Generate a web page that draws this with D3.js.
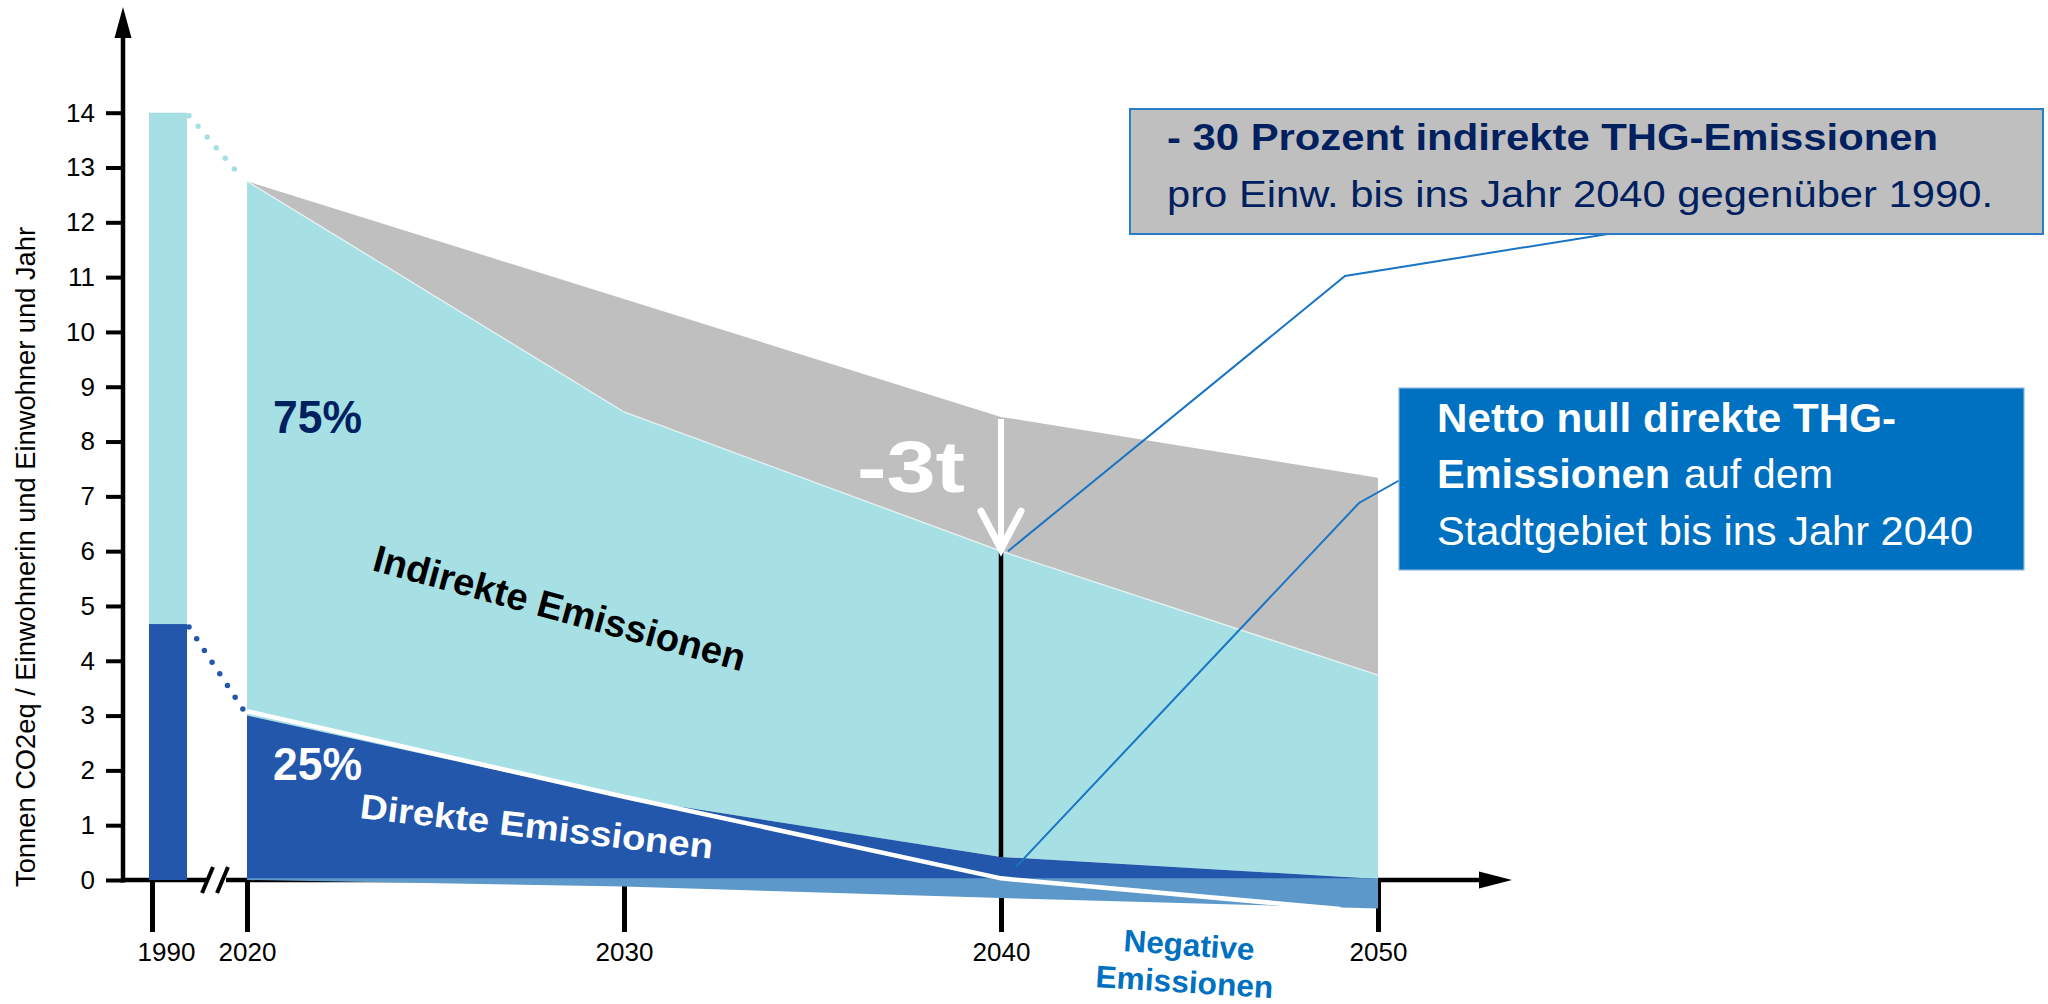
<!DOCTYPE html>
<html><head><meta charset="utf-8">
<script src="https://cdn.jsdelivr.net/npm/d3@7"></script>
<style>
html,body{margin:0;padding:0;background:#fff;}
svg{display:block;font-family:"Liberation Sans",Arial,Helvetica,sans-serif;}
</style></head><body>
<svg id="chart" width="2048" height="1004"></svg>
<script>
// ---------- data ----------
const years        = [2020, 2030, 2040, 2050];
const upperLimit   = [12.75, 10.6, 8.45, 7.34];   // grey band top
const indirectTop  = [12.75, 8.54, 6.0, 3.74];    // top of indirect (cyan) area
const directTop    = [3.0, 1.5, 0.42, 0.02];      // top of direct (dark blue) area
const negativeEm   = [0, -0.12, -0.33, -0.52];    // negative emissions (below zero)
const netYears     = [2020, 2030, 2040, 2049];
const netDirect    = [3.08, 1.52, 0.03, -0.53];   // white net line
const baseYear     = 1990;
const baseTotal    = 14;
const baseDirect   = 4.67;
const targetYear   = 2040;
const yTickValues  = [0,1,2,3,4,5,6,7,8,9,10,11,12,13,14];
const xTickYears   = [1990, 2020, 2030, 2040, 2050];

const C = {
  cyan:"#a7e0e4", grey:"#bfbfbf", dark:"#2257ab", neg:"#5c98c9",
  navy:"#002060", boxBlue:"#0070c0", lead:"#1a74c4"
};

const svg = d3.select("#chart");
const x = d3.scaleLinear().domain([1990, 2020, 2050]).range([152, 247, 1378]);
const y = d3.scaleLinear().domain([0, 14]).range([880, 112.7]);
const AX = 123;

// ---------- axes ----------
const yAxis = d3.axisLeft(y).tickValues(yTickValues).tickSize(17).tickSizeOuter(0).tickPadding(11);
const gy = svg.append("g").attr("transform", `translate(${AX},0)`).call(yAxis);
gy.select(".domain").remove();
gy.selectAll(".tick line").attr("stroke", "#000").attr("stroke-width", 4);
gy.selectAll(".tick text").attr("font-size", 26).attr("fill", "#000")
  .attr("font-family", '"Liberation Sans",Arial,sans-serif');

const xAxis = d3.axisBottom(x).tickValues(xTickYears).tickSize(52).tickSizeOuter(0)
  .tickPadding(10.5).tickFormat(d3.format("d"));
const gx = svg.append("g").attr("transform", `translate(0,${y(0)})`).call(xAxis);
gx.select(".domain").remove();
gx.selectAll(".tick line").attr("stroke", "#000").attr("stroke-width", 5);
gx.selectAll(".tick text").attr("font-size", 26).attr("fill", "#000")
  .attr("font-family", '"Liberation Sans",Arial,sans-serif')
  .attr("x", d => d === baseYear ? 14 : 0);

// axis lines
svg.append("line").attr("x1", AX).attr("x2", AX).attr("y1", y(0) + 2.5).attr("y2", 36)
  .attr("stroke", "#000").attr("stroke-width", 4.5);
svg.append("path").attr("d", `M${AX},7 L${AX - 8.5},38 L${AX + 8.5},38 Z`).attr("fill", "#000");
svg.append("line").attr("x1", AX - 2).attr("x2", 207).attr("y1", y(0)).attr("y2", y(0))
  .attr("stroke", "#000").attr("stroke-width", 4.5);
svg.append("line").attr("x1", 226).attr("x2", 1484).attr("y1", y(0)).attr("y2", y(0))
  .attr("stroke", "#000").attr("stroke-width", 4.5);
svg.append("path").attr("d", `M1512,${y(0)} L1479,${y(0) - 8.5} L1479,${y(0) + 8.5} Z`).attr("fill", "#000");
// axis break marks
[[202, 217]].forEach(() => {});
svg.append("line").attr("x1", 202).attr("y1", 893).attr("x2", 213).attr("y2", 867).attr("stroke", "#000").attr("stroke-width", 4);
svg.append("line").attr("x1", 217).attr("y1", 893).attr("x2", 228).attr("y2", 867).attr("stroke", "#000").attr("stroke-width", 4);

// ---------- 1990 bar ----------
const barL = x(baseYear) - 3, barW = 38;
svg.append("rect").attr("x", barL).attr("width", barW)
  .attr("y", y(baseTotal)).attr("height", y(baseDirect) - y(baseTotal)).attr("fill", C.cyan);
svg.append("rect").attr("x", barL).attr("width", barW)
  .attr("y", y(baseDirect)).attr("height", y(0) - y(baseDirect)).attr("fill", C.dark);

// dotted connectors
svg.append("line").attr("x1", barL + barW + 2).attr("y1", y(baseTotal) + 3)
  .attr("x2", x(2020) - 4).attr("y2", y(indirectTop[0]) - 2)
  .attr("stroke", C.cyan).attr("stroke-width", 5.5).attr("stroke-linecap", "round").attr("stroke-dasharray", "0 14");
svg.append("line").attr("x1", barL + barW + 2).attr("y1", y(baseDirect) + 3)
  .attr("x2", x(2020) - 4).attr("y2", y(netDirect[0]) - 2)
  .attr("stroke", C.dark).attr("stroke-width", 5.5).attr("stroke-linecap", "round").attr("stroke-dasharray", "0 14");

// ---------- areas ----------
const idx = years.map((_, i) => i);
const mk = (lo, hi) => d3.area().x(i => x(years[i])).y0(i => y(lo[i])).y1(i => y(hi[i]));
svg.append("path").datum(idx).attr("d", mk(indirectTop, upperLimit)).attr("fill", C.grey);
svg.append("path").datum(idx).attr("d", mk(directTop, indirectTop)).attr("fill", C.cyan);
svg.append("path").datum(idx).attr("d", d3.line().x(i => x(years[i])).y(i => y(indirectTop[i])))
  .attr("fill", "none").attr("stroke", "#e6f3f4").attr("stroke-width", 1.3);
svg.append("path").datum(idx).attr("d", mk(years.map(() => 0), directTop)).attr("fill", C.dark);
svg.append("path").datum(idx).attr("d", mk(negativeEm, years.map(() => 0.03))).attr("fill", C.neg);

// net line (white)
svg.append("path").datum(netYears.map((yr, i) => [yr, netDirect[i]]))
  .attr("d", d3.line().x(d => x(d[0])).y(d => y(d[1])))
  .attr("fill", "none").attr("stroke", "#fff").attr("stroke-width", 4.5);

// 2040 marker line
const xt = x(targetYear), ti = years.indexOf(targetYear);
svg.append("line").attr("x1", xt).attr("x2", xt).attr("y1", y(indirectTop[ti])).attr("y2", y(directTop[ti]))
  .attr("stroke", "#000").attr("stroke-width", 4.5);

// white arrow -3t
const tipY = y(indirectTop[ti]);
svg.append("line").attr("x1", xt).attr("x2", xt).attr("y1", y(upperLimit[ti]) + 2).attr("y2", tipY - 3)
  .attr("stroke", "#fff").attr("stroke-width", 6);
svg.append("path").attr("d", `M${xt - 20},${tipY - 40} L${xt},${tipY - 2} L${xt + 20},${tipY - 40}`)
  .attr("fill", "none").attr("stroke", "#fff").attr("stroke-width", 7).attr("stroke-linecap", "round").attr("stroke-linejoin", "miter");
svg.append("text").attr("x", 857).attr("y", 492).text("-3t")
  .attr("font-size", 72).attr("font-weight", "bold").attr("fill", "#fff")
  .attr("textLength", 108).attr("lengthAdjust", "spacingAndGlyphs");

// ---------- labels in areas ----------
svg.append("text").attr("x", 273).attr("y", 433).text("75%")
  .attr("font-size", 46).attr("font-weight", "bold").attr("fill", C.navy)
  .attr("textLength", 89).attr("lengthAdjust", "spacingAndGlyphs");
svg.append("text").attr("x", 273).attr("y", 780).text("25%")
  .attr("font-size", 46).attr("font-weight", "bold").attr("fill", "#fff")
  .attr("textLength", 89).attr("lengthAdjust", "spacingAndGlyphs");
svg.append("text").attr("transform", "translate(371,570) rotate(15.3)").text("Indirekte Emissionen")
  .attr("font-size", 38).attr("font-weight", "bold").attr("fill", "#000")
  .attr("textLength", 384).attr("lengthAdjust", "spacingAndGlyphs");
svg.append("text").attr("transform", "translate(359,818) rotate(6.6)").text("Direkte Emissionen")
  .attr("font-size", 35).attr("font-weight", "bold").attr("fill", "#fff")
  .attr("textLength", 355).attr("lengthAdjust", "spacingAndGlyphs");
svg.append("text").attr("transform", "translate(1123,951) rotate(4.1)").text("Negative")
  .attr("font-size", 31).attr("font-weight", "bold").attr("fill", C.boxBlue)
  .attr("textLength", 131).attr("lengthAdjust", "spacingAndGlyphs");
svg.append("text").attr("transform", "translate(1095,987) rotate(3.6)").text("Emissionen")
  .attr("font-size", 31).attr("font-weight", "bold").attr("fill", C.boxBlue)
  .attr("textLength", 178).attr("lengthAdjust", "spacingAndGlyphs");

// y axis title
svg.append("text").attr("transform", "translate(35,557) rotate(-90)").attr("text-anchor", "middle")
  .text("Tonnen CO2eq / Einwohnerin und Einwohner und Jahr")
  .attr("font-size", 27).attr("fill", "#000")
  .attr("textLength", 660).attr("lengthAdjust", "spacingAndGlyphs");

// ---------- callouts ----------
// leader lines
svg.append("path").attr("d", `M1608,234 L1345,276 L${xt + 7},${tipY}`)
  .attr("fill", "none").attr("stroke", C.lead).attr("stroke-width", 2);
svg.append("path").attr("d", `M1400,480 L1359,503 L${xt + 15},${y(0.24)}`)
  .attr("fill", "none").attr("stroke", C.lead).attr("stroke-width", 2);

// box 1
svg.append("rect").attr("x", 1130).attr("y", 109).attr("width", 913).attr("height", 125)
  .attr("fill", C.grey).attr("stroke", "#2a7cc7").attr("stroke-width", 2);
svg.append("text").attr("x", 1167).attr("y", 150).text("- 30 Prozent indirekte THG-Emissionen")
  .attr("font-size", 36).attr("font-weight", "bold").attr("fill", C.navy)
  .attr("textLength", 771).attr("lengthAdjust", "spacingAndGlyphs");
svg.append("text").attr("x", 1167).attr("y", 207).text("pro Einw. bis ins Jahr 2040 gegenüber 1990.")
  .attr("font-size", 36).attr("fill", C.navy)
  .attr("textLength", 826).attr("lengthAdjust", "spacingAndGlyphs");

// box 2
svg.append("rect").attr("x", 1399).attr("y", 388).attr("width", 625).attr("height", 182)
  .attr("fill", C.boxBlue).attr("stroke", "#8fb8de").attr("stroke-width", 1.2);
svg.append("text").attr("x", 1437).attr("y", 432).text("Netto null direkte THG-")
  .attr("font-size", 40).attr("font-weight", "bold").attr("fill", "#fff")
  .attr("textLength", 459).attr("lengthAdjust", "spacingAndGlyphs");
svg.append("text").attr("x", 1437).attr("y", 488).text("Emissionen")
  .attr("font-size", 40).attr("font-weight", "bold").attr("fill", "#fff")
  .attr("textLength", 233).attr("lengthAdjust", "spacingAndGlyphs");
svg.append("text").attr("x", 1684).attr("y", 488).text("auf dem")
  .attr("font-size", 40).attr("fill", "#fff")
  .attr("textLength", 149).attr("lengthAdjust", "spacingAndGlyphs");
svg.append("text").attr("x", 1437).attr("y", 545).text("Stadtgebiet bis ins Jahr 2040")
  .attr("font-size", 40).attr("fill", "#fff")
  .attr("textLength", 536).attr("lengthAdjust", "spacingAndGlyphs");
</script>
</body></html>
